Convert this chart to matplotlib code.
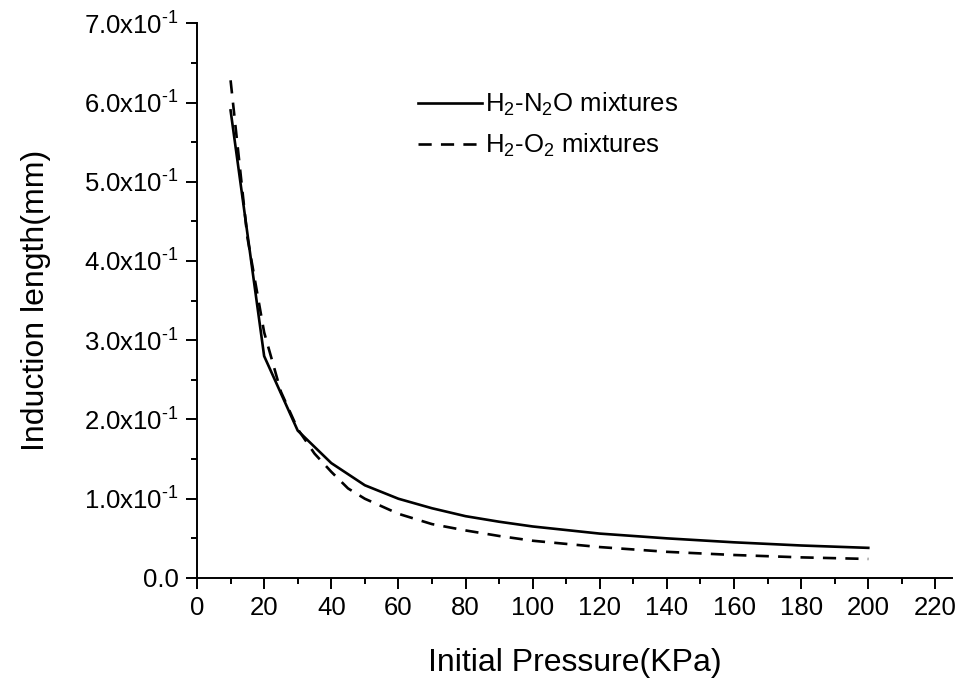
import matplotlib
matplotlib.use('Agg')
import matplotlib.pyplot as plt
from matplotlib.ticker import MultipleLocator, FuncFormatter

plt.rcParams['font.family'] = ['Liberation Sans', 'DejaVu Sans']
plt.rcParams['mathtext.fontset'] = 'custom'
plt.rcParams['mathtext.rm'] = 'Liberation Sans'
plt.rcParams['mathtext.it'] = 'Liberation Sans'

# initial pressure (KPa)
p_n2o = [10, 20, 30, 40, 50, 60, 70, 80, 90, 100, 120, 140, 160, 180, 200]
len_n2o = [0.590, 0.280, 0.186, 0.145, 0.117, 0.100, 0.088, 0.078, 0.071, 0.065,
           0.056, 0.050, 0.045, 0.041, 0.038]

p_o2 = [10, 15, 20, 25, 30, 35, 40, 45, 50, 60, 70, 80, 90, 100, 120, 140, 160, 180, 200]
len_o2 = [0.628, 0.430, 0.310, 0.235, 0.188, 0.157, 0.134, 0.113, 0.100, 0.081, 0.068,
          0.060, 0.053, 0.047, 0.039, 0.033, 0.029, 0.026, 0.024]

fig = plt.figure(figsize=(9.62, 6.84), dpi=100)
ax = fig.add_axes([0.2048, 0.155, 0.785, 0.811])

ax.plot(p_n2o, len_n2o, color='black', lw=1.9, label=r'H$_2$-N$_2$O mixtures')
ax.plot(p_o2, len_o2, color='black', lw=1.9, linestyle=(0, (5, 3.5)),
        label=r'H$_2$-O$_2$ mixtures')

ax.set_xlim(0, 225)
ax.set_ylim(0, 0.7)
ax.xaxis.set_major_locator(MultipleLocator(20))
ax.xaxis.set_minor_locator(MultipleLocator(10))
ax.yaxis.set_major_locator(MultipleLocator(0.1))
ax.yaxis.set_minor_locator(MultipleLocator(0.05))


def yfmt(v, pos):
    if abs(v) < 1e-9:
        return '0.0'
    return r'%.1fx10$^{\text{-1}}$' % (v * 10)


ax.yaxis.set_major_formatter(FuncFormatter(yfmt))

for s in ['top', 'right']:
    ax.spines[s].set_visible(False)
for s in ['left', 'bottom']:
    ax.spines[s].set_linewidth(1.4)

ax.tick_params(which='major', direction='out', length=8, width=1.4, labelsize=18.5, pad=5)
ax.tick_params(which='minor', direction='out', length=4, width=1.4)

ax.set_xlabel('Initial Pressure(KPa)', fontsize=23, labelpad=20)
ax.set_ylabel('Induction length(mm)', fontsize=23, labelpad=24)

ax.legend(loc='upper left', bbox_to_anchor=(0.262, 0.92), frameon=False,
          fontsize=18.5, handlelength=2.5, handletextpad=0.12, labelspacing=0.55)

fig.savefig('out.png', dpi=100)
